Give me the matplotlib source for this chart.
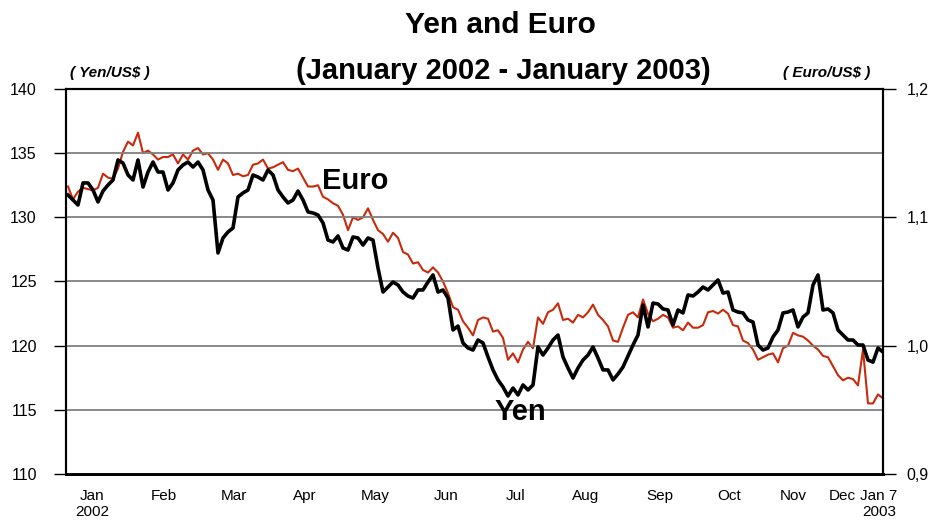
import matplotlib
matplotlib.use("Agg")
import matplotlib.pyplot as plt
import numpy as np
from matplotlib.ticker import FuncFormatter

plt.rcParams['font.family'] = ['Liberation Sans', 'DejaVu Sans']

# Yen per US$ (left axis), Jan 2002 - Jan 7 2003
yen = [131.74, 131.35, 130.96, 132.68, 132.68, 132.13, 131.20, 132.05, 132.52, 132.91,
       134.47, 134.23, 133.30, 132.91, 134.47, 132.36, 133.53, 134.31, 133.53, 133.53,
       132.13, 132.68, 133.69, 134.08, 134.31, 133.92, 134.31, 133.69, 132.13, 131.35,
       127.22, 128.39, 128.86, 129.17, 131.59, 131.90, 132.13, 133.30, 133.14, 132.91,
       133.69, 133.30, 132.13, 131.59, 131.12, 131.35, 132.05, 131.35, 130.42, 130.34,
       130.18, 129.56, 128.23, 128.08, 128.55, 127.61, 127.45, 128.47, 128.39, 127.84,
       128.39, 128.23, 126.05, 124.18, 124.57, 124.96, 124.73, 124.18, 123.87, 123.71,
       124.34, 124.34, 124.96, 125.51, 124.18, 124.34, 123.71, 121.22, 121.53, 120.21,
       119.82, 119.66, 120.44, 120.21, 119.12, 118.11, 117.33, 116.78, 116.08, 116.70,
       116.16, 116.94, 116.55, 116.94, 119.90, 119.27, 119.82, 120.44, 120.83, 119.12,
       118.26, 117.48, 118.26, 118.88, 119.27, 119.90, 119.04, 118.11, 118.11, 117.33,
       117.79, 118.34, 119.20, 120.05, 120.83, 123.17, 121.46, 123.32, 123.25, 122.86,
       122.78, 121.61, 122.78, 122.55, 123.95, 123.87, 124.18, 124.57, 124.34, 124.73,
       125.12, 124.10, 124.18, 122.78, 122.62, 122.55, 122.00, 121.84, 120.05, 119.66,
       119.82, 120.68, 121.22, 122.55, 122.62, 122.78, 121.46, 122.23, 122.55, 124.73,
       125.51, 122.78, 122.86, 122.55, 121.22, 120.83, 120.44, 120.44, 120.05, 120.05,
       118.88, 118.72, 119.82, 119.50]

# Euro per US$ (right axis)
euro = [1.124, 1.114, 1.120, 1.123, 1.122, 1.121, 1.123, 1.134, 1.131, 1.130,
        1.138, 1.151, 1.159, 1.156, 1.166, 1.150, 1.152, 1.149, 1.145, 1.147,
        1.147, 1.149, 1.142, 1.149, 1.145, 1.152, 1.154, 1.149, 1.150, 1.145,
        1.137, 1.145, 1.142, 1.133, 1.134, 1.132, 1.133, 1.141, 1.142, 1.145,
        1.138, 1.139, 1.141, 1.143, 1.137, 1.136, 1.138, 1.131, 1.124, 1.124,
        1.125, 1.116, 1.114, 1.111, 1.109, 1.102, 1.090, 1.100, 1.098, 1.100,
        1.107, 1.098, 1.090, 1.087, 1.081, 1.088, 1.084, 1.073, 1.071, 1.064,
        1.065, 1.059, 1.057, 1.061, 1.057, 1.050, 1.041, 1.030, 1.028, 1.019,
        1.014, 1.008, 1.020, 1.022, 1.021, 1.011, 1.012, 1.006, 0.989, 0.994,
        0.987, 0.997, 1.003, 0.998, 1.022, 1.017, 1.026, 1.028, 1.033, 1.020,
        1.021, 1.018, 1.024, 1.022, 1.026, 1.032, 1.024, 1.020, 1.015, 1.004,
        1.003, 1.014, 1.024, 1.026, 1.022, 1.036, 1.025, 1.019, 1.021, 1.024,
        1.022, 1.014, 1.015, 1.012, 1.018, 1.014, 1.014, 1.016, 1.026, 1.027,
        1.025, 1.028, 1.025, 1.016, 1.015, 1.004, 1.002, 0.997, 0.989, 0.991,
        0.993, 0.994, 0.987, 0.998, 1.000, 1.010, 1.008, 1.007, 1.004, 1.000,
        0.997, 0.992, 0.991, 0.984, 0.977, 0.973, 0.975, 0.974, 0.969, 0.997,
        0.955, 0.955, 0.962, 0.959]

months = ['Jan\n2002', 'Feb', 'Mar', 'Apr', 'May', 'Jun', 'Jul', 'Aug',
          'Sep', 'Oct', 'Nov', 'Dec', 'Jan 7\n2003']
month_pos = [4.8, 19.2, 33.2, 47.4, 61.4, 75.6, 89.6, 103.6, 118.4, 132.2, 145, 154.8, 162.2]

red = '#C82A0C'

fig = plt.figure(figsize=(9.35, 5.23), dpi=100)
ax = fig.add_axes([66/935, 1-474/523, (883-66)/935, (474-89)/523])
ax2 = ax.twinx()

x = np.arange(len(yen))
ax2.plot(x, euro, color=red, lw=1.5)
ax.plot(x, yen, color='black', lw=2.6)

# yen on top of euro
ax.set_zorder(ax2.get_zorder() + 1)
ax.patch.set_visible(False)

ax.set_xlim(-0.4, 163)
ax.set_ylim(110, 140)
ax2.set_ylim(0.9, 1.2)
ax.set_yticks(np.arange(110, 141, 5))
ax2.set_yticks([0.9, 1.0, 1.1, 1.2])
ax2.yaxis.set_major_formatter(FuncFormatter(lambda v, p: f"{v:.1f}".replace('.', ',')))

ax.yaxis.grid(True, color='#808080', lw=1.3)
ax.set_axisbelow(True)

ax.set_xticks(month_pos)
ax.set_xticklabels(months, linespacing=1.15)
ax.tick_params(axis='x', length=0, pad=11, labelsize=11)
ax.tick_params(axis='y', length=9, width=1, pad=12, labelsize=11.5)
ax2.tick_params(axis='y', length=9, width=1, pad=8, labelsize=11.5)

for a in (ax, ax2):
    for s in a.spines.values():
        s.set_color('black')
    a.spines['left'].set_linewidth(1.5)
    a.spines['right'].set_linewidth(1.5)
    a.spines['top'].set_linewidth(1.5)
    a.spines['bottom'].set_linewidth(2)

fig.text(0.535, 0.952, 'Yen and Euro', ha='center', va='center', fontsize=21.5, fontweight='bold')
fig.text(0.538, 0.864, '(January 2002 - January 2003)', ha='center', va='center',
         fontsize=21, fontweight='bold')
fig.text(0.118, 0.861, '( Yen/US$ )', ha='center', va='center', fontsize=11,
         fontweight='bold', style='italic')
fig.text(0.884, 0.861, '( Euro/US$ )', ha='center', va='center', fontsize=11,
         fontweight='bold', style='italic')

fig.text(0.3797, 0.654, 'Euro', ha='center', va='center', fontsize=21, fontweight='bold')
fig.text(0.557, 0.212, 'Yen', ha='center', va='center', fontsize=21, fontweight='bold')

fig.savefig('out.png', dpi=100)
